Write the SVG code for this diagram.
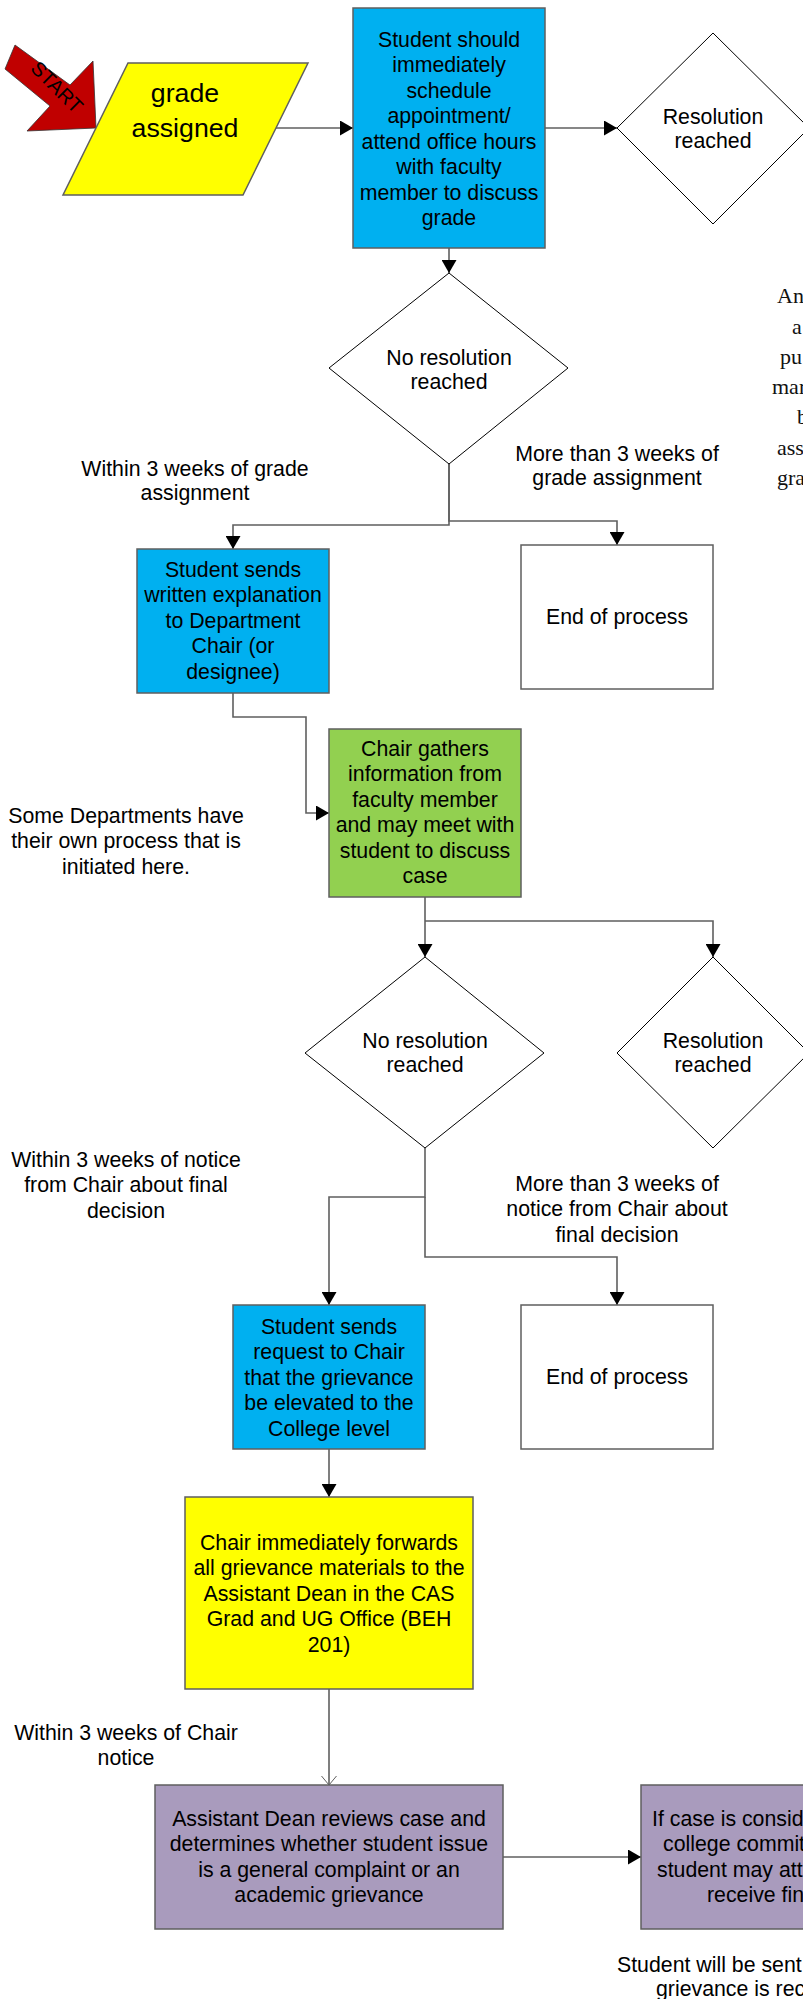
<svg xmlns="http://www.w3.org/2000/svg" width="803" height="1999" viewBox="0 0 803 1999">
<style>
text{font-family:"Liberation Sans",Arial,sans-serif;font-size:21.3px;fill:#000;text-anchor:middle}
.big{font-size:26.7px}
.lft{text-anchor:start}
.serif{font-family:"Liberation Serif","Times New Roman",serif;font-size:22px;text-anchor:start;fill:#111}
.box{stroke:#5f5f5f;stroke-width:1.5}
.dia{fill:#fff;stroke:#000;stroke-width:1}
.con{fill:none;stroke:#5f5f5f;stroke-width:1.6}
</style>
<defs>
<marker id="arr" viewBox="0 0 13 15" refX="13" refY="7.5" markerWidth="13" markerHeight="15" markerUnits="userSpaceOnUse" orient="auto"><path d="M0,0 L13,7.5 L0,15 z" fill="#000"/></marker>
<marker id="open" viewBox="0 0 9 16" refX="9" refY="8" markerWidth="9" markerHeight="16" markerUnits="userSpaceOnUse" orient="auto"><path d="M0,0.5 L9,8 L0,15.5" fill="none" stroke="#5f5f5f" stroke-width="1"/></marker>
</defs>
<rect width="803" height="1999" fill="#fff"/>

<g id="connectors">
<path class="con" d="M276,128 H353" marker-end="url(#arr)"/>
<path class="con" d="M545,128 H617" marker-end="url(#arr)"/>
<path class="con" d="M449,248 V273" marker-end="url(#arr)"/>
<path class="con" d="M449,464 V525 H233 V549" marker-end="url(#arr)"/>
<path class="con" d="M449,464 V521 H617 V545" marker-end="url(#arr)"/>
<path class="con" d="M233,693 V717 H306 V813 H329" marker-end="url(#arr)"/>
<path class="con" d="M425,897 V957" marker-end="url(#arr)"/>
<path class="con" d="M425,921 H713 V957" marker-end="url(#arr)"/>
<path class="con" d="M425,1148 V1197 H329 V1305" marker-end="url(#arr)"/>
<path class="con" d="M425,1197 V1257 H617 V1305" marker-end="url(#arr)"/>
<path class="con" d="M329,1449 V1497" marker-end="url(#arr)"/>
<path class="con" d="M329,1689 V1785" stroke-width="1.2" marker-end="url(#open)"/>
<path class="con" d="M503,1857 H641" marker-end="url(#arr)"/>
</g>

<g id="start">
<polygon points="15,45 70,85 93,61 96,128 27,131 50,106 5,69" fill="#c00000" stroke="#333" stroke-width="0.8"/>
<text transform="translate(57,87) rotate(45)" dominant-baseline="central" style="font-size:20px">START</text>
</g>

<g id="grade-assigned">
<polygon points="128,63 308,63 243,195 63,195" fill="#ffff00" class="box"/>
<text class="big" x="185" y="102">grade</text>
<text class="big" x="185" y="137">assigned</text>
</g>

<g id="meet-faculty">
<rect x="353" y="8" width="192" height="240" fill="#00b0f0" class="box"/>
<text x="449" y="46.5">Student should</text>
<text x="449" y="72">immediately</text>
<text x="449" y="97.5">schedule</text>
<text x="449" y="123">appointment/</text>
<text x="449" y="148.5">attend office hours</text>
<text x="449" y="174">with faculty</text>
<text x="449" y="199.5">member to discuss</text>
<text x="449" y="225">grade</text>
</g>

<g id="resolution-1">
<polygon points="713,33 809,128 713,224 617,128" class="dia"/>
<text x="713" y="124">Resolution</text>
<text x="713" y="147.5">reached</text>
</g>

<g id="no-resolution-1">
<polygon points="449,273 568,368 449,464 329,368" class="dia"/>
<text x="449" y="364.5">No resolution</text>
<text x="449" y="388.5">reached</text>
</g>

<g id="label-within-grade">
<text x="195" y="475.5">Within 3 weeks of grade</text>
<text x="195" y="499.5">assignment</text>
</g>
<g id="label-more-grade">
<text x="617" y="460.5">More than 3 weeks of</text>
<text x="617" y="484.5">grade assignment</text>
</g>

<g id="side-note">
<text class="serif" x="777" y="303">An</text>
<text class="serif" x="792" y="333.5">a</text>
<text class="serif" x="780" y="364">pu</text>
<text class="serif" x="772" y="394">mar</text>
<text class="serif" x="797" y="424">b</text>
<text class="serif" x="777" y="455">assi</text>
<text class="serif" x="777" y="485">gra</text>
</g>

<g id="written-explanation">
<rect x="137" y="549" width="192" height="144" fill="#00b0f0" class="box"/>
<text x="233" y="576.5">Student sends</text>
<text x="233" y="602">written explanation</text>
<text x="233" y="627.5">to Department</text>
<text x="233" y="653">Chair (or</text>
<text x="233" y="678.5">designee)</text>
</g>

<g id="end-1">
<rect x="521" y="545" width="192" height="144" fill="#fff" class="box"/>
<text x="617" y="623.5">End of process</text>
</g>

<g id="label-departments">
<text x="126" y="822.5">Some Departments have</text>
<text x="126" y="848">their own process that is</text>
<text x="126" y="873.5">initiated here.</text>
</g>

<g id="chair-gathers">
<rect x="329" y="729" width="192" height="168" fill="#92d050" class="box"/>
<text x="425" y="755.5">Chair gathers</text>
<text x="425" y="781">information from</text>
<text x="425" y="806.5">faculty member</text>
<text x="425" y="832">and may meet with</text>
<text x="425" y="857.5">student to discuss</text>
<text x="425" y="883">case</text>
</g>

<g id="no-resolution-2">
<polygon points="425,957 544,1053 425,1148 305,1053" class="dia"/>
<text x="425" y="1047.5">No resolution</text>
<text x="425" y="1071.5">reached</text>
</g>

<g id="resolution-2">
<polygon points="713,957 809,1053 713,1148 617,1053" class="dia"/>
<text x="713" y="1047.5">Resolution</text>
<text x="713" y="1071.5">reached</text>
</g>

<g id="label-within-notice">
<text x="126" y="1166.5">Within 3 weeks of notice</text>
<text x="126" y="1192">from Chair about final</text>
<text x="126" y="1217.5">decision</text>
</g>
<g id="label-more-notice">
<text x="617" y="1190.5">More than 3 weeks of</text>
<text x="617" y="1216">notice from Chair about</text>
<text x="617" y="1241.5">final decision</text>
</g>

<g id="request-elevate">
<rect x="233" y="1305" width="192" height="144" fill="#00b0f0" class="box"/>
<text x="329" y="1333.5">Student sends</text>
<text x="329" y="1359">request to Chair</text>
<text x="329" y="1384.5">that the grievance</text>
<text x="329" y="1410">be elevated to the</text>
<text x="329" y="1435.5">College level</text>
</g>

<g id="end-2">
<rect x="521" y="1305" width="192" height="144" fill="#fff" class="box"/>
<text x="617" y="1383.5">End of process</text>
</g>

<g id="chair-forwards">
<rect x="185" y="1497" width="288" height="192" fill="#ffff00" class="box"/>
<text x="329" y="1549.5">Chair immediately forwards</text>
<text x="329" y="1575">all grievance materials to the</text>
<text x="329" y="1600.5">Assistant Dean in the CAS</text>
<text x="329" y="1626">Grad and UG Office (BEH</text>
<text x="329" y="1651.5">201)</text>
</g>

<g id="label-within-chair">
<text x="126" y="1739.5">Within 3 weeks of Chair</text>
<text x="126" y="1765">notice</text>
</g>

<g id="dean-reviews">
<rect x="155" y="1785" width="348" height="144" fill="#a99bbd" class="box"/>
<text x="329" y="1825.5">Assistant Dean reviews case and</text>
<text x="329" y="1851">determines whether student issue</text>
<text x="329" y="1876.5">is a general complaint or an</text>
<text x="329" y="1902">academic grievance</text>
</g>

<g id="college-committee">
<rect x="641" y="1785" width="348" height="144" fill="#a99bbd" class="box"/>
<text class="lft" x="652" y="1825.5">If case is consid</text>
<text class="lft" x="663" y="1851">college commit</text>
<text class="lft" x="657" y="1876.5">student may att</text>
<text class="lft" x="707" y="1902">receive fin</text>
</g>

<g id="label-student-sent">
<text class="lft" x="617" y="1972">Student will be sent</text>
<text class="lft" x="656" y="1996">grievance is rec</text>
</g>
</svg>
